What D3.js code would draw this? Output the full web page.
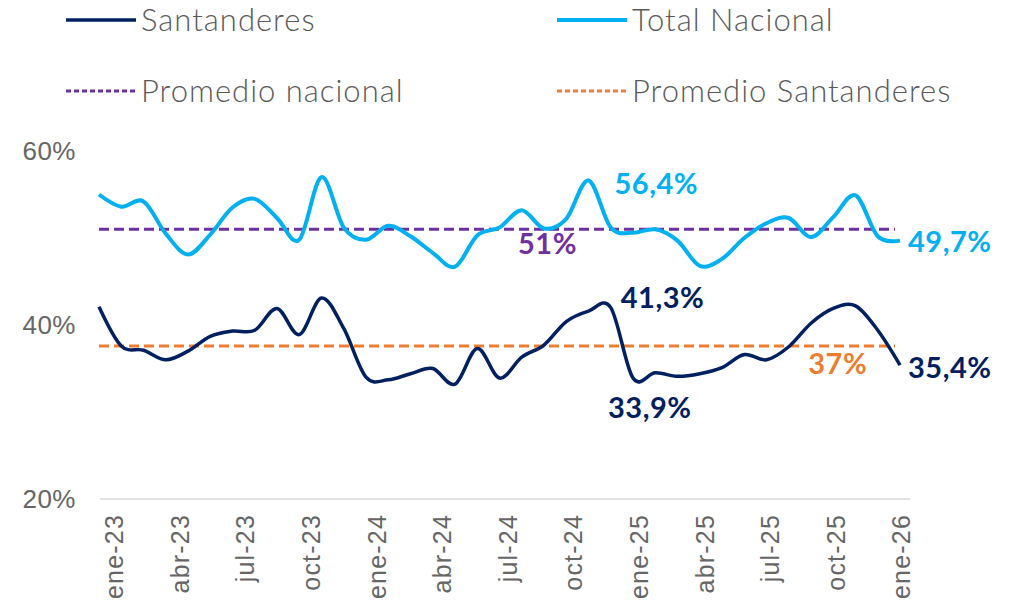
<!DOCTYPE html>
<html lang="es">
<head>
<meta charset="utf-8">
<title>Santanderes vs Total Nacional</title>
<script src="https://d3js.org/d3.v7.min.js"></script>
<style>
  body { margin: 0; background: #fff; }
  svg { display: block; font-family: Lato, "Noto Sans", sans-serif; }
  .axis text { fill: #666666; font-size: 25px; font-weight: 300; letter-spacing: 1.2px; }
  .legend text { fill: #595959; font-size: 31px; font-weight: 300; letter-spacing: 1px; }
  .lbl { font-weight: bold; font-size: 29px; letter-spacing: 0.5px; }
</style>
</head>
<body>
<svg id="chart" width="1015" height="614"></svg>
<script>
// months ene-23 .. ene-26
const months = ["ene-23","feb-23","mar-23","abr-23","may-23","jun-23","jul-23","ago-23","sep-23","oct-23","nov-23","dic-23",
                "ene-24","feb-24","mar-24","abr-24","may-24","jun-24","jul-24","ago-24","sep-24","oct-24","nov-24","dic-24",
                "ene-25","feb-25","mar-25","abr-25","may-25","jun-25","jul-25","ago-25","sep-25","oct-25","nov-25","dic-25",
                "ene-26"];
const tickLabels = months.filter((d, i) => i % 3 === 0);

const santanderes = [42.1, 37.6, 37.1, 36.0, 37.0, 38.7, 39.3, 39.4, 41.9, 38.9, 43.1, 39.6,
                     34.0, 33.7, 34.4, 35.0, 33.2, 37.3, 33.9, 36.3, 37.7, 40.4, 41.6, 42.0,
                     33.9, 34.5, 34.1, 34.4, 35.1, 36.6, 36.0, 37.5, 40.2, 41.9, 42.2, 39.4,
                     35.4];
const totalNacional = [55.0, 53.6, 54.2, 50.5, 48.1, 50.4, 53.5, 54.5, 52.3, 49.8, 57.0, 51.2,
                       49.8, 51.4, 50.2, 48.3, 46.7, 50.3, 51.2, 53.2, 51.1, 52.2, 56.6, 51.2,
                       50.6, 51.0, 49.7, 46.8, 47.6, 50.0, 51.7, 52.3, 50.1, 52.4, 54.9, 50.2,
                       49.7];
const promNacional = 51.0;
const promSantanderes = 37.6;

const yTicks = [20, 40, 60];

const legendItems = [
  { name: "Santanderes", color: "#002060", dash: null, width: 3.5 },
  { name: "Total Nacional", color: "#00B0F0", dash: null, width: 4 },
  { name: "Promedio nacional", color: "#7030A0", dash: "5,3", width: 3 },
  { name: "Promedio Santanderes", color: "#ED7D31", dash: "5,3", width: 3 }
];

// data labels, placed next to the month they belong to
const labels = [
  { text: "56,4%", month: "nov-24", color: "#00B0F0", dx: 26, y: 184 },
  { text: "49,7%", month: "ene-26", color: "#00B0F0", dx: 8, y: 242 },
  { text: "51%", month: "sep-24", color: "#7030A0", dx: -26, y: 244 },
  { text: "41,3%", month: "dic-24", color: "#002060", dx: 10, y: 298 },
  { text: "33,9%", month: "ene-25", color: "#002060", dx: -25, y: 408 },
  { text: "37%", month: "oct-25", color: "#ED7D31", dx: -25, y: 364 },
  { text: "35,4%", month: "ene-26", color: "#002060", dx: 8, y: 368 }
];

const svg = d3.select("#chart");

const x = d3.scalePoint().domain(months).range([99, 900]);
const xLab = d3.scalePoint().domain(months).range([114, 901]);
const y = d3.scaleLinear().domain([20, 60]).range([499, 151]);

// grid line at 20%
svg.append("line")
  .attr("x1", 100).attr("x2", 910)
  .attr("y1", y(20)).attr("y2", y(20))
  .attr("stroke", "#D9D9D9").attr("stroke-width", 1.5);

// y axis
const yAxis = svg.append("g").attr("class", "axis")
  .attr("transform", "translate(76,0)")
  .call(d3.axisLeft(y).tickValues(yTicks).tickFormat(d => d + "%").tickSize(0).tickPadding(0));
yAxis.select(".domain").remove();
yAxis.selectAll("text").attr("font-family", null).style("letter-spacing", "0.5px").style("font-size", "26px");

// x axis
const xAxis = svg.append("g").attr("class", "axis")
  .attr("transform", "translate(0," + y(20) + ")")
  .call(d3.axisBottom(xLab).tickValues(tickLabels).tickSize(0));
xAxis.select(".domain").remove();
xAxis.selectAll("text")
  .attr("font-family", null)
  .attr("transform", "rotate(-90)")
  .attr("text-anchor", "end")
  .attr("x", -15)
  .attr("y", 0)
  .attr("dy", "0.35em");

// average lines
svg.append("line")
  .attr("x1", x(months[0])).attr("x2", 895)
  .attr("y1", y(promNacional)).attr("y2", y(promNacional))
  .attr("stroke", "#7030A0").attr("stroke-width", 3).attr("stroke-dasharray", "10,5");
svg.append("line")
  .attr("x1", x(months[0])).attr("x2", 895)
  .attr("y1", y(promSantanderes)).attr("y2", y(promSantanderes))
  .attr("stroke", "#ED7D31").attr("stroke-width", 3).attr("stroke-dasharray", "10,5");

const line = d3.line()
  .x((d, i) => x(months[i]))
  .y(d => y(d))
  .curve(d3.curveCatmullRom.alpha(0));

svg.append("path").datum(totalNacional)
  .attr("d", line).attr("fill", "none")
  .attr("stroke", "#00B0F0").attr("stroke-width", 4);
svg.append("path").datum(santanderes)
  .attr("d", line).attr("fill", "none")
  .attr("stroke", "#002060").attr("stroke-width", 3.5);

// data labels
svg.selectAll("text.lbl").data(labels).enter().append("text")
  .attr("class", "lbl")
  .attr("x", d => x(d.month) + d.dx)
  .attr("y", d => d.y)
  .attr("dy", "0.36em")
  .attr("fill", d => d.color)
  .text(d => d.text);

// legend
const legend = svg.append("g").attr("class", "legend");
const lg = legend.selectAll("g").data(legendItems).enter().append("g")
  .attr("transform", (d, i) => "translate(" + (i % 2 === 0 ? 66 : 557) + "," + (i < 2 ? 20 : 91) + ")");
lg.append("line")
  .attr("x1", 0).attr("x2", 70)
  .attr("stroke", d => d.color)
  .attr("stroke-width", d => d.width)
  .attr("stroke-dasharray", d => d.dash);
lg.append("text")
  .attr("x", 75).attr("dy", "0.35em")
  .text(d => d.name);
</script>
</body>
</html>
